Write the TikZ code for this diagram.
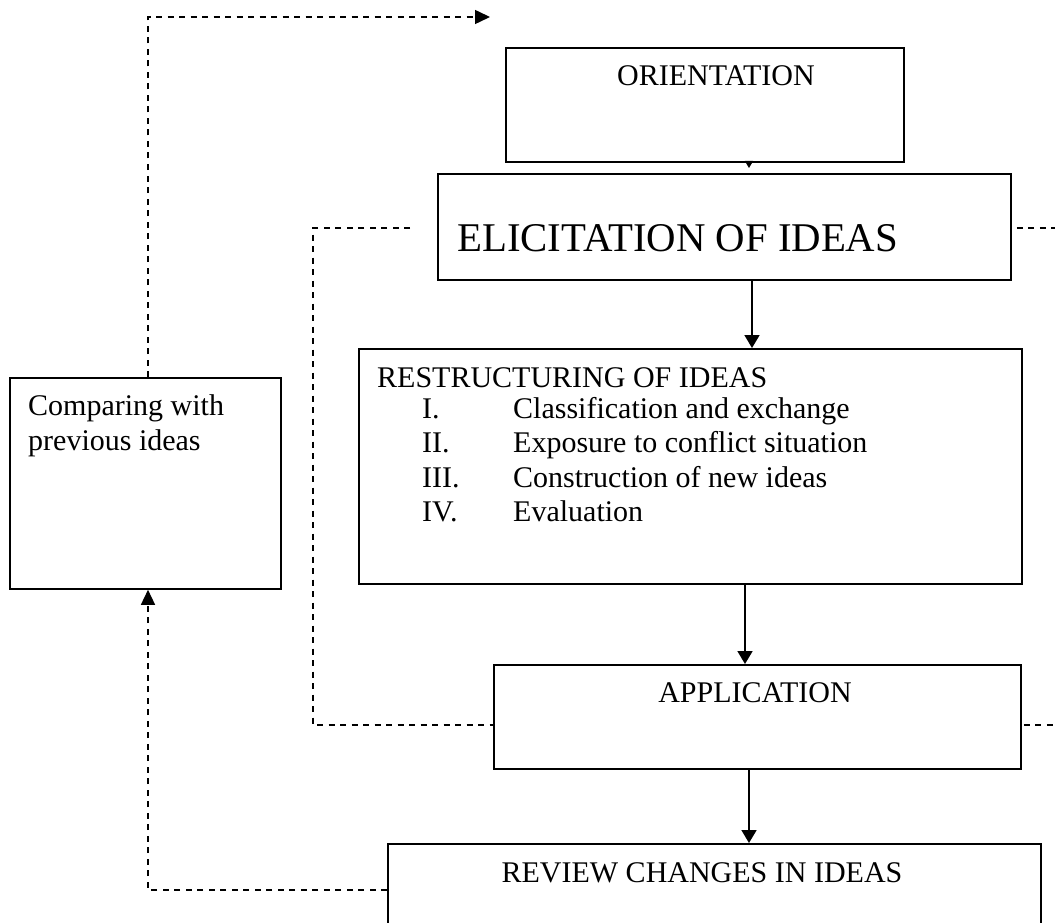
\documentclass[tikz,border=0pt]{standalone}
\usepackage{fontspec}
\setmainfont{Liberation Serif}
\usetikzlibrary{arrows.meta}
\begin{document}
\begin{tikzpicture}[x=1pt,y=-1pt,
  box/.style={draw, line width=1.8pt, inner sep=0pt, anchor=north west},
  txt/.style={inner sep=0pt, font=\fontsize{30}{34.5}\selectfont},
  big/.style={inner sep=0pt, font=\fontsize{40.8}{46}\selectfont},
  arr/.style={line width=1.8pt, -{Triangle[width=15pt,length=13pt]}},
  dsh/.style={line width=1.5pt, dash pattern=on 6pt off 5.5pt},
  dtip/.style={-{Triangle[width=14pt,length=15pt]}}]
\useasboundingbox (0,0) rectangle (1055,923);
\clip (0,0) rectangle (1055,923);
% boxes
\node[box, minimum width=398pt, minimum height=114pt] (ori) at (505,47) {};
\node[box, minimum width=573pt, minimum height=106pt] (elic) at (437,173) {};
\node[box, minimum width=663pt, minimum height=235pt] (rest) at (358,348) {};
\node[box, minimum width=271pt, minimum height=211pt] (comp) at (9,377) {};
\node[box, minimum width=527pt, minimum height=104pt] (app) at (493,664) {};
\node[box, minimum width=653pt, minimum height=110pt] (rev) at (387,843) {};
% texts
\node[txt, anchor=base] (torient) at (716,86) {ORIENTATION};
\node[big, anchor=base west] (telic) at (457,251) {ELICITATION OF IDEAS};
\node[txt, anchor=base west] (trest) at (377,387) {RESTRUCTURING OF IDEAS};
\node[txt, anchor=base west] (n1) at (422,418) {I.};
\node[txt, anchor=base west] (i1) at (513,418) {Classification and exchange};
\node[txt, anchor=base west] (n2) at (422,452) {II.};
\node[txt, anchor=base west] (i2) at (513,452) {Exposure to conflict situation};
\node[txt, anchor=base west] (n3) at (422,487) {III.};
\node[txt, anchor=base west] (i3) at (513,487) {Construction of new ideas};
\node[txt, anchor=base west] (n4) at (422,521) {IV.};
\node[txt, anchor=base west] (i4) at (513,521) {Evaluation};
\node[txt, anchor=base west] (tcomp1) at (28,415) {Comparing with};
\node[txt, anchor=base west] (tcomp2) at (28,450) {previous ideas};
\node[txt, anchor=base] (tapp) at (755,702) {APPLICATION};
\node[txt, anchor=base] (trev) at (702,882) {REVIEW CHANGES IN IDEAS};
% free ends
\coordinate (topend) at (490,17);
\coordinate (elicL) at (410,228);
\coordinate (elicR) at (1058,228);
\coordinate (appR) at (1058,725);
% solid arrows
\draw[line width=1pt, -{Triangle[width=8pt,length=7pt]}, shorten >=5pt] (ori.south -| 749,0) -- (elic.north -| 749,0);
\draw[arr] (elic.south -| 752,0) -- (rest.north -| 752,0);
\draw[arr] (rest.south -| 745,0) -- (app.north -| 745,0);
\draw[arr] (app.south -| 749,0) -- (rev.north -| 749,0);
% dashed connectors
\draw[dsh, dtip] (comp.north -| 148,0) |- (topend);
\draw[dsh] (elicL) -- (313,228) |- (app.west |- 0,725);
\draw[dsh, shorten <=5pt] (elic.east |- 0,228) -- (elicR);
\draw[dsh, shorten <=2pt] (app.east |- 0,725) -- (appR);
\draw[dsh, dtip] (rev.west |- 0,890) -| (comp.south -| 148,0);
\end{tikzpicture}
\end{document}
